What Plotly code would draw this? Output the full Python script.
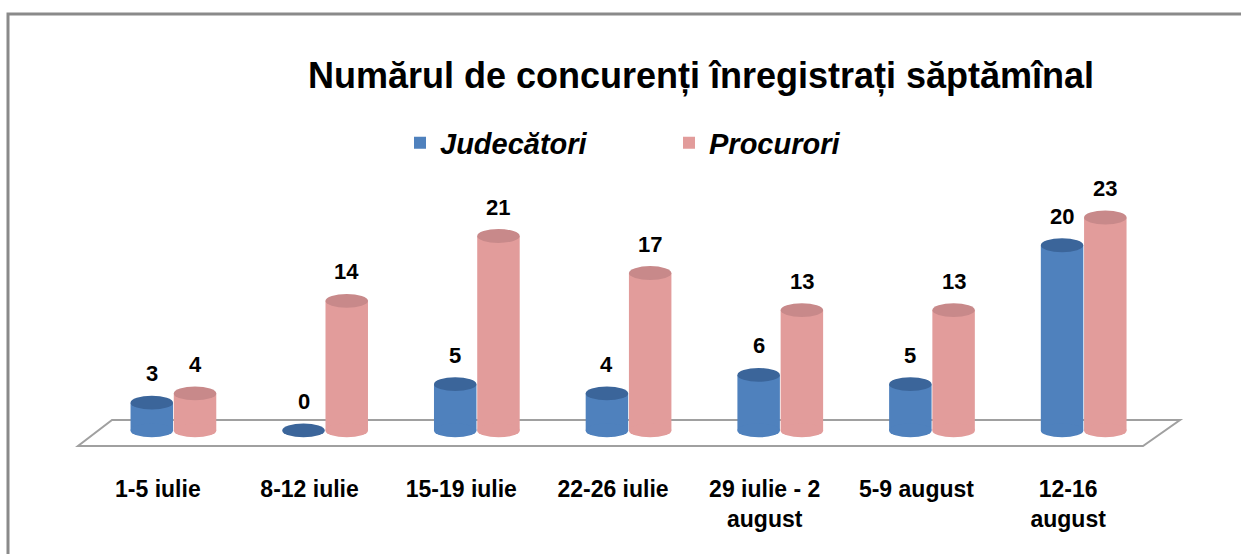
import plotly.graph_objects as go

categories = ["1-5 iulie", "8-12 iulie", "15-19 iulie", "22-26 iulie",
              "29 iulie - 2<br>august", "5-9 august", "12-16<br>august"]
judecatori = [3, 0, 5, 4, 6, 5, 20]
procurori = [4, 14, 21, 17, 13, 13, 23]
series_names = ["Judecători", "Procurori"]
title_text = "Numărul de concurenți înregistrați săptămînal"

W, H = 1241, 554
ML, MR, MT, MB = 82, 97, 199, 81
XR = [-0.5, 6.5]
YR = [-4.6, 25]

BLUE = "#4F81BD"
BLUE_TOP = "#3B659A"
PINK = "#E29C9B"
PINK_TOP = "#C8898A"

FONT = "Liberation Sans, Arial, sans-serif"

bar_w = 0.28
off_blue = -0.04
off_pink = 0.245
ry = 0.75  # ellipse half-height in data units

def px2paper_x(px):
    return (px - ML) / (W - ML - MR)

def px2paper_y(py):
    return (H - MB - py) / (H - MT - MB)

fig = go.Figure()
xs = list(range(len(categories)))
xb = [i + off_blue for i in xs]
xp = [i + off_pink for i in xs]

fig.add_trace(go.Bar(x=xb, y=judecatori, width=bar_w, name=series_names[0],
                     marker=dict(color=BLUE, line=dict(width=0)), hoverinfo="skip"))
fig.add_trace(go.Bar(x=xp, y=procurori, width=bar_w, name=series_names[1],
                     marker=dict(color=PINK, line=dict(width=0)), hoverinfo="skip"))

shapes = []
# floor
fl = [(78, 446), (1143, 446), (1180, 420), (112, 420)]
path = "M " + " L ".join(f"{px2paper_x(a):.5f},{px2paper_y(b):.5f}" for a, b in fl) + " Z"
shapes.append(dict(type="path", xref="paper", yref="paper", path=path,
                   fillcolor="white", line=dict(color="#A0A0A0", width=2), layer="below"))
# frame
shapes.append(dict(type="rect", xref="paper", yref="paper",
                   x0=px2paper_x(8), x1=px2paper_x(1260),
                   y0=px2paper_y(570), y1=px2paper_y(14),
                   line=dict(color="#8A8A8A", width=3), fillcolor="rgba(0,0,0,0)", layer="below"))

annotations = []
for xv, vals, body, top in ((xb, judecatori, BLUE, BLUE_TOP), (xp, procurori, PINK, PINK_TOP)):
    for x, v in zip(xv, vals):
        rx = bar_w / 2
        if v > 0:
            shapes.append(dict(type="circle", xref="x", yref="y",
                               x0=x - rx, x1=x + rx, y0=-ry, y1=ry,
                               fillcolor=body, line=dict(width=0)))
        shapes.append(dict(type="circle", xref="x", yref="y",
                           x0=x - rx, x1=x + rx, y0=v - ry, y1=v + ry,
                           fillcolor=top, line=dict(width=0)))
        annotations.append(dict(x=x, y=v, xref="x", yref="y", text=str(v),
                                showarrow=False, yshift=29,
                                font=dict(family=FONT, size=22, color="black", weight="bold")))

fig.update_layout(
    width=W, height=H,
    margin=dict(l=ML, r=MR, t=MT, b=MB),
    paper_bgcolor="white", plot_bgcolor="rgba(0,0,0,0)",
    barmode="overlay",
    title=dict(text=title_text, x=px2paper_x(701), xref="paper", xanchor="center",
               y=1 - 75 / H, yref="container", yanchor="middle",
               font=dict(family=FONT, size=36, color="black", weight="bold")),
    legend=dict(orientation="h", x=px2paper_x(400), xanchor="left",
                y=px2paper_y(143), yanchor="middle",
                entrywidth=224, entrywidthmode="pixels", itemwidth=30,
                font=dict(family=FONT, size=29, color="black", weight="bold", style="italic"),
                bgcolor="rgba(0,0,0,0)"),
    xaxis=dict(range=XR, tickmode="array", tickvals=xs, ticktext=categories,
               showgrid=False, zeroline=False, showline=False, ticks="",
               tickfont=dict(family=FONT, size=23, color="black", weight="bold")),
    yaxis=dict(range=YR, visible=False, showgrid=False, zeroline=False),
    shapes=shapes, annotations=annotations,
)

fig.write_html("out.html", config={"displayModeBar": False},
               post_script="document.body.style.margin='0';document.body.style.overflow='hidden';")
